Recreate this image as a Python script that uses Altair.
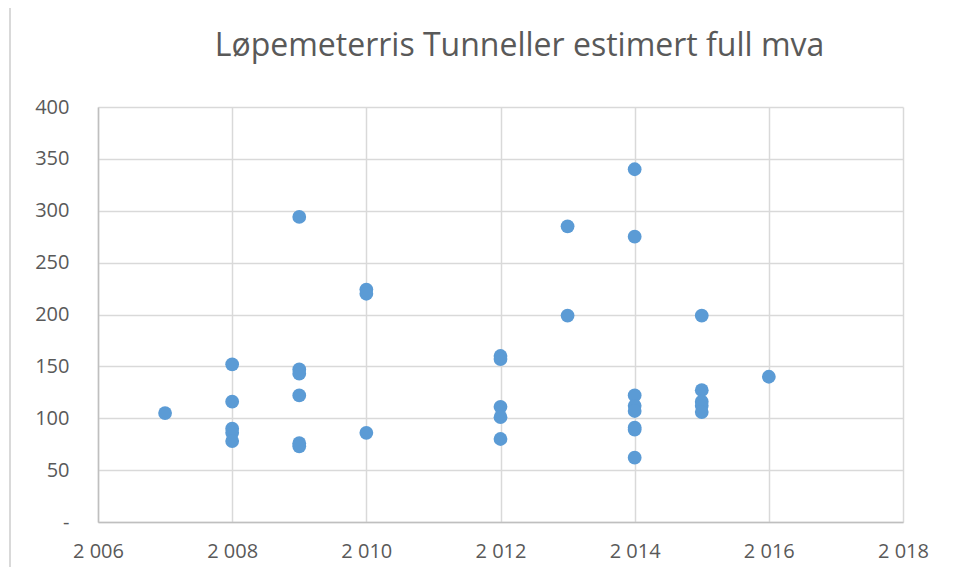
import altair as alt
import pandas as pd

years = [2007,
         2008, 2008, 2008, 2008, 2008,
         2009, 2009, 2009, 2009, 2009, 2009,
         2010, 2010, 2010,
         2012, 2012, 2012, 2012, 2012,
         2013, 2013,
         2014, 2014, 2014, 2014, 2014, 2014, 2014, 2014,
         2015, 2015, 2015, 2015, 2015,
         2016]
values = [105,
          152, 116, 90, 86, 78,
          294, 147, 143, 122, 76, 73,
          224, 220, 86,
          160, 157, 111, 101, 80,
          285, 199,
          340, 275, 122, 112, 107, 91, 89, 62,
          199, 127, 116, 112, 106,
          140]

df = pd.DataFrame({"year": years, "value": values})

title_text = "Løpemeterris Tunneller estimert full mva"
x_ticks = [2006, 2008, 2010, 2012, 2014, 2016, 2018]
y_ticks = [0, 50, 100, 150, 200, 250, 300, 350, 400]

FONT = "Open Sans"
GREY = "#595959"

points = alt.Chart(df).mark_circle(size=190, opacity=1, color="#5B9BD5").encode(
    x=alt.X("year:Q",
            scale=alt.Scale(domain=[2006, 2018], nice=False, zero=False),
            axis=alt.Axis(values=x_ticks, title=None, ticks=False, domain=True,
                          domainColor="#BFBFBF", domainWidth=1.5,
                          gridColor="#D9D9D9", gridWidth=1.5,
                          labelFlush=False, labelOverlap=False,
                          labelExpr="substring(toString(datum.value),0,1) + ' ' + substring(toString(datum.value),1)",
                          labelFont=FONT, labelFontSize=20, labelColor=GREY,
                          labelPadding=19)),
    y=alt.Y("value:Q",
            scale=alt.Scale(domain=[0, 400], nice=False),
            axis=alt.Axis(values=y_ticks, title=None, ticks=False, domain=True,
                          domainColor="#BFBFBF", domainWidth=1.5,
                          gridColor="#D9D9D9", gridWidth=1.5,
                          labelFlush=False, labelOverlap=False,
                          labelExpr="datum.value == 0 ? '-\u00a0\u00a0' : toString(datum.value)",
                          labelFont=FONT, labelFontSize=20, labelColor=GREY,
                          labelPadding=29)),
)

frame = alt.Chart(df).mark_rule(color="#D9D9D9", strokeWidth=1.5).encode(
    x=alt.value(-88), y=alt.value(-110), y2=alt.value(470)
)

chart = alt.layer(frame, points).properties(
    width=805,
    height=415,
    padding={"left": 90, "top": 99, "right": 40, "bottom": 45},
    autosize=alt.AutoSizeParams(type="none"),
    title=alt.TitleParams(title_text, font=FONT, fontSize=32, fontWeight="normal",
                          color=GREY, anchor="middle", frame="group", dx=19,
                          offset=0, dy=67),
).configure_view(stroke=None)

chart.save("out.html", embed_options={"renderer": "svg", "actions": False})
